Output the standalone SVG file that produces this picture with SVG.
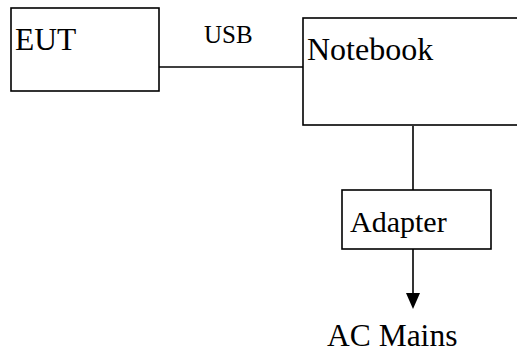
<svg xmlns="http://www.w3.org/2000/svg" width="517" height="352" viewBox="0 0 517 352">
<style>
.box{fill:#fff;stroke:#000;stroke-width:1.6}
.ln{fill:none;stroke:#000;stroke-width:1.6}
text{font-family:"Liberation Serif","Times New Roman",serif;fill:#000}
.big{font-size:31.5px}
.sm{font-size:25px}
</style>
<g id="connectors">
<line class="ln" x1="159" y1="67" x2="303" y2="67"/>
<text class="sm" x="204" y="43">USB</text>
<line class="ln" x1="413" y1="126" x2="413" y2="190"/>
<path class="ln" d="M413,249 V293"/>
<path d="M406,293 L420,293 L413,309 Z" fill="#000"/>
</g>
<g id="eut">
<rect class="box" x="11" y="8" width="148" height="83"/>
<text class="big" x="15" y="50">EUT</text>
</g>
<g id="notebook">
<rect class="box" x="303" y="18" width="220" height="107"/>
<text class="big" x="307" y="60" style="font-size:32px">Notebook</text>
</g>
<g id="adapter">
<rect class="box" x="342" y="190" width="149" height="59"/>
<text class="big" x="350" y="232" style="font-size:30px">Adapter</text>
</g>
<g id="acmains">
<text class="big" x="327" y="346">AC Mains</text>
</g>
</svg>
